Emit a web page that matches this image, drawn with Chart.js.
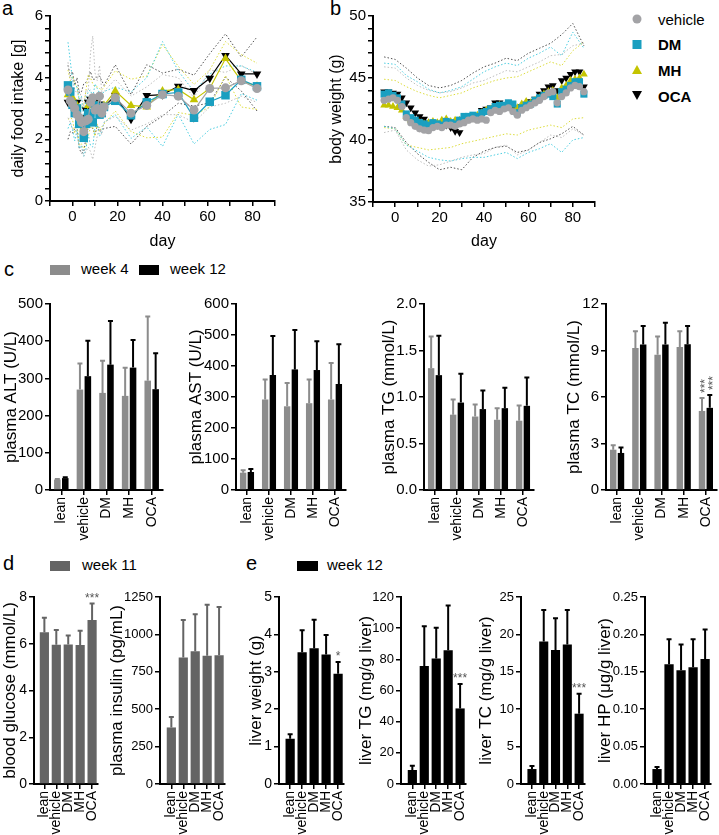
<!DOCTYPE html>
<html>
<head>
<meta charset="utf-8">
<script src="https://cdn.jsdelivr.net/npm/chart.js@4.4.1/dist/chart.umd.min.js"></script>
<style>
html,body{margin:0;padding:0;background:#fff;}
body{width:719px;height:835px;position:relative;overflow:hidden;font-family:"Liberation Sans",Arial,Helvetica,sans-serif;color:#000;}
.t{position:absolute;white-space:nowrap;line-height:1;}
.lbl{font-size:20px;}
.leg{font-size:15px;}
.sw{position:absolute;}
canvas{position:absolute;}
</style>
</head>
<body>
<div class="t lbl" style="left:2px;top:-2px">a</div>
<div class="t lbl" style="left:330px;top:-2px">b</div>
<div class="t lbl" style="left:4px;top:259px">c</div>
<div class="t lbl" style="left:3px;top:553px">d</div>
<div class="t lbl" style="left:246px;top:553px">e</div>

<svg style="position:absolute;left:628px;top:10px" width="20" height="95">
 <circle cx="9" cy="9" r="4.5" fill="#a3a3a6"/>
 <rect x="4.5" y="30" width="9" height="9" fill="#1a9fc0"/>
 <polygon points="9,55 14,64 4,64" fill="#c4c400"/>
 <polygon points="4,81 14,81 9,90" fill="#000"/>
</svg>
<div class="t leg" style="left:658px;top:12px">vehicle</div>
<div class="t leg" style="left:658px;top:37px;font-weight:bold">DM</div>
<div class="t leg" style="left:658px;top:63px;font-weight:bold">MH</div>
<div class="t leg" style="left:658px;top:89px;font-weight:bold">OCA</div>

<div class="sw" style="left:50px;top:265px;width:20px;height:10px;background:#8c8c8c"></div>
<div class="t leg" style="left:81px;top:261px">week 4</div>
<div class="sw" style="left:139px;top:265px;width:20px;height:10px;background:#000"></div>
<div class="t leg" style="left:170px;top:261px">week 12</div>

<div class="sw" style="left:50px;top:561px;width:20px;height:10px;background:#646464"></div>
<div class="t leg" style="left:82px;top:557px">week 11</div>
<div class="sw" style="left:297px;top:561px;width:21px;height:10px;background:#000"></div>
<div class="t leg" style="left:327px;top:557px">week 12</div>

<script>
// ---------------- DATA ----------------
const groups = ['lean', 'vehicle', 'DM', 'MH', 'OCA'];

// panel a: daily food intake [g]
const foodDays = [-2,-1,0,1,2,3,4,5,6,7,8,9,10,11,12,13,14,19,26,33,40,47,54,61,68,75,82];
const foodVehicle   = [3.6,3.25,3.15,3.0,2.8,2.7,2.55,2.25,2.6,2.65,3.2,3.35,2.95,3.0,3.4,2.85,3.05,3.35,2.85,3.1,3.45,3.4,2.95,3.65,3.67,3.9,3.65];
const foodVehicleSD = [0.9,0.7,0.8,0.6,0.7,0.9,0.8,0.8,1.0,0.9,1.6,2.0,1.2,0.9,1.0,0.7,0.5,0.6,0.55,0.6,0.65,0.6,0.4,0.6,0.5,0.5,0.45];
const foodDM        = [3.75,3.55,3.12,2.85,3.0,2.5,2.6,2.05,2.5,2.85,2.7,2.55,3.1,3.05,2.8,2.85,3.05,3.25,2.78,3.2,3.47,3.52,2.7,3.22,3.43,3.93,3.72];
const foodDMSD      = [1.4,1.0,0.8,0.9,0.7,0.8,0.8,0.6,0.8,0.7,0.9,0.8,0.7,0.6,0.7,0.6,0.5,0.45,0.75,0.8,1.7,0.7,0.85,0.9,0.95,0.45,0.45];
const foodMH        = [3.45,3.3,3.35,3.0,3.1,2.5,2.45,2.4,2.7,3.1,3.2,3.1,2.9,3.1,2.95,3.0,3.1,3.57,3.1,3.05,3.57,3.62,3.28,3.65,4.62,3.9,3.72];
const foodMHSD      = [0.8,0.6,0.7,0.8,0.6,0.7,0.6,0.7,0.9,1.0,0.8,0.7,0.8,0.6,0.7,0.6,0.6,0.65,0.85,1.0,1.5,0.75,0.5,0.6,0.55,0.85,0.75];
const foodOCA       = [3.2,3.15,3.2,3.05,3.2,2.6,2.55,2.7,2.95,3.2,3.3,3.15,3.05,3.25,3.15,3.1,3.05,3.42,2.65,3.42,3.45,3.72,3.58,3.98,4.72,4.12,4.12];
const foodOCASD     = [1.2,0.9,1.0,0.7,0.8,0.9,1.0,1.1,0.9,0.8,0.9,0.8,0.9,0.8,0.9,0.8,0.7,1.0,0.8,1.0,0.7,0.55,0.5,0.8,0.7,0.55,1.2];

// panel b: body weight (g)
const bwDays = [-5,-3,-1,1,3,5,7,9,11,13,15,17,19,21,23,25,27,29,31,33,35,37,39,41,43,45,47,49,51,53,55,57,59,61,63,65,67,69,71,73,75,77,79,81,83,85];
const bwVehicle = [43.2,43.3,43.4,43.2,42.7,41.8,41.4,41.1,40.9,40.8,40.75,41.0,41.1,41.0,41.2,41.2,41.1,41.3,41.4,41.6,41.7,41.6,41.7,41.6,42.2,42.4,42.3,42.5,42.6,42.3,42.0,42.4,42.6,42.8,43.0,43.2,43.5,43.8,43.9,43.0,43.5,43.8,44.2,44.4,44.3,43.9];
const bwDM      = [43.7,43.8,43.6,43.4,42.9,42.1,41.8,41.6,41.4,41.3,41.2,41.4,41.3,41.2,41.5,41.4,41.3,41.6,41.9,41.9,42.0,41.9,42.2,42.3,42.5,42.7,42.8,42.8,43.0,42.9,42.2,42.6,42.8,42.9,43.2,43.4,43.6,43.7,43.5,42.9,43.9,44.1,44.4,44.7,44.7,43.7];
const bwMH      = [42.8,42.8,42.7,42.6,42.4,41.9,41.6,41.5,41.4,41.3,41.4,41.5,41.4,41.6,41.7,41.5,41.6,41.6,41.7,41.8,41.9,42.0,42.2,42.4,42.5,42.6,42.8,42.7,42.9,42.8,42.6,42.9,43.1,43.0,43.2,43.4,43.7,43.9,44.0,43.4,44.2,44.4,44.8,44.9,45.0,45.3];
const bwOCA     = [43.9,43.9,43.8,43.7,43.4,43.0,42.6,42.2,41.9,41.7,41.4,41.2,41.3,41.1,41.2,41.0,40.7,40.6,41.5,41.7,41.8,42.0,42.4,42.5,42.6,43.0,43.0,42.8,42.7,42.6,42.5,42.7,42.9,43.1,43.3,43.7,44.0,44.3,44.4,44.0,44.8,45.0,45.3,45.5,45.5,44.3];
const bandDays = [-5,0,5,10,15,20,25,30,35,40,45,50,55,60,65,70,75,80,85];
const bwVehicleUpper = [45.9,45.8,45.0,44.4,44.0,43.8,43.9,44.2,44.6,44.8,45.2,45.6,45.5,45.9,46.3,46.8,46.9,47.6,47.8];
const bwVehicleLower = [40.6,40.8,39.2,38.4,37.9,38.0,38.3,38.6,38.8,38.9,39.4,39.6,38.8,39.2,39.8,40.4,40.2,40.9,40.4];
const bwDMUpper  = [46.2,46.1,45.2,44.7,44.1,43.8,44.0,44.3,44.9,45.5,45.9,46.2,46.0,46.6,47.0,47.5,46.8,48.7,47.4];
const bwDMLower  = [41.1,40.9,39.6,39.1,38.6,38.4,38.3,38.5,38.6,38.6,38.8,39.0,38.5,39.0,39.3,39.7,39.0,40.0,40.2];
const bwMHUpper  = [44.9,44.8,44.3,43.9,43.6,43.4,43.6,43.8,44.2,44.5,44.8,45.0,45.1,45.5,45.9,46.3,46.0,47.2,47.9];
const bwMHLower  = [41.0,40.9,39.6,39.4,39.2,39.3,39.4,39.7,39.9,40.1,40.3,40.5,40.4,40.8,41.0,41.2,41.0,41.7,41.8];
const bwOCAUpper = [46.7,46.5,45.8,45.0,44.4,44.2,44.4,44.8,45.4,45.9,46.2,46.6,46.4,47.0,47.4,47.8,48.5,49.4,47.6];
const bwOCALower = [41.1,41.0,39.8,38.9,38.2,37.6,37.8,37.6,38.6,39.1,39.4,39.5,39.0,39.2,39.8,40.1,40.5,41.1,40.4];

// panel c (week 4 / week 12, mean and SD)
const altWeek4 = [28,270,261,253,294],        altWeek4SD = [4,73,89,78,175];
const altWeek12 = [32,306,337,329,271],       altWeek12SD = [5,98,120,77,99];
const astWeek4 = [56,292,270,280,292],        astWeek4SD = [11,68,78,80,121];
const astWeek12 = [58,371,389,387,342],       astWeek12SD = [13,129,130,96,131];
const tgWeek4 = [1.31,0.81,0.79,0.755,0.745], tgWeek4SD = [0.35,0.175,0.14,0.135,0.175];
const tgWeek12 = [1.235,0.94,0.87,0.88,0.905],tgWeek12SD = [0.435,0.32,0.21,0.23,0.315];
const tcWeek4 = [2.6,9.16,8.73,9.22,5.1],     tcWeek4SD = [0.35,1.14,1.23,1.08,0.9];
const tcWeek12 = [2.39,9.38,9.38,9.4,5.3],    tcWeek12SD = [0.41,1.27,1.48,1.25,0.89];
const tcStars = ['','','','','***'];

// panel d (week 11)
const glucose = [6.49,5.96,5.97,5.95,7.02],   glucoseSD = [0.67,0.67,0.43,0.65,0.74];
const glucoseStars = ['','','','','***'];
const insulin = [378,845,888,858,860],        insulinSD = [77,258,254,347,330];

// panel e (week 12)
const liverWeight = [1.21,3.52,3.63,3.46,2.95], liverWeightSD = [0.15,0.62,0.79,0.55,0.34];
const liverWeightStars = ['','','','','*'];
const liverTG = [9,75.8,80.5,85.8,48.5],        liverTGSD = [3.4,26,20.4,29.4,16.3];
const liverTGStars = ['','','','','***'];
const liverTC = [2.0,19.05,17.9,18.65,9.4],     liverTCSD = [0.55,4.35,4.4,4.75,2.8];
const liverTCStars = ['','','','','***'];
const liverHP = [0.020,0.160,0.152,0.156,0.167],liverHPSD = [0.004,0.035,0.036,0.039,0.041];

// ---------------- STYLE ----------------
const C = {veh:'#a3a3a6', dm:'#1a9fc0', mh:'#c4c400', oca:'#000000'};
const CB = {veh:'#bdbdbd', dm:'#4acde0', mh:'#dcdc3c', oca:'#505050'};
const FONT = '"Liberation Sans", Arial, Helvetica, sans-serif';
Chart.defaults.font.family = FONT;
Chart.defaults.color = '#000';

function tickList(min, max, step){ const out=[]; const n=Math.round((max-min)/step); for(let i=0;i<=n;i++) out.push(+(min+i*step).toFixed(6)); return out; }
function isMult(v, m){ return Math.abs(v/m - Math.round(v/m)) < 1e-6; }

function yAxis(min, max, step, fmt, title, tSize, hSize){
  return {type:'linear', min, max,
    afterBuildTicks: s => { s.ticks = tickList(min,max,step).map(v=>({value:v})); },
    ticks:{autoSkip:false, font:{size:tSize}, color:'#000', padding:2, callback: fmt},
    grid:{drawOnChartArea:false, drawTicks:true, tickLength:5, color:'#000', lineWidth:1.5},
    border:{display:true, color:'#000', width:2},
    title:{display:true, text:title, font:{size:hSize}, color:'#000', padding:0}
  };
}
function xLin(min, max, step, fmt, title){
  return {type:'linear', min, max, offset:false,
    afterBuildTicks: s => { s.ticks = tickList(min,max,step).map(v=>({value:v})); },
    ticks:{autoSkip:false, maxRotation:0, font:{size:15}, color:'#000', padding:2, callback: fmt},
    grid:{drawOnChartArea:false, drawTicks:true, tickLength:5, color:'#000', lineWidth:1.5, offset:false},
    border:{display:true, color:'#000', width:2},
    title:{display:true, text:title, font:{size:16}, color:'#000', padding:0}
  };
}
function xCat(min){
  return {type:'linear', min, max:4.5, offset:false,
    afterBuildTicks: s => { s.ticks = [0,1,2,3,4].map(v=>({value:v})); },
    ticks:{autoSkip:false, minRotation:90, maxRotation:90, font:{size:14}, color:'#000', padding:2, callback: v => groups[v]},
    grid:{drawOnChartArea:false, drawTicks:true, tickLength:5, color:'#000', lineWidth:1.5, offset:false},
    border:{display:true, color:'#000', width:2}
  };
}

const errPlugin = {
  id:'errbars',
  afterDatasetsDraw(chart){
    const ctx = chart.ctx, ys = chart.scales.y;
    chart.data.datasets.forEach((ds,i) => {
      if(!ds.err) return;
      const meta = chart.getDatasetMeta(i);
      meta.data.forEach((el,j) => {
        const top = ys.getPixelForValue(ds.data[j].y + ds.err[j]);
        ctx.save();
        ctx.strokeStyle = ds.backgroundColor; ctx.lineWidth = 2;
        ctx.beginPath();
        ctx.moveTo(el.x, el.y); ctx.lineTo(el.x, top);
        ctx.moveTo(el.x-2.5, top+1); ctx.lineTo(el.x+2.5, top+1);
        ctx.stroke();
        const s = ds.stars && ds.stars[j];
        if(s){
          ctx.fillStyle = '#555'; ctx.font = '12px ' + FONT;
          if(ds.starRot){
            ctx.translate(el.x, top-4); ctx.rotate(-Math.PI/2);
            ctx.textAlign='left'; ctx.textBaseline='alphabetic';
            ctx.fillText(s, 0, 6.9);
          } else {
            ctx.textAlign='center'; ctx.textBaseline='alphabetic';
            ctx.fillText(s, el.x, top-1);
          }
        }
        ctx.restore();
      });
    });
  }
};

function build(box, cfg){
  const cl = Math.round(box.cl), ct = Math.round(box.T) - 12, cr = Math.round(box.R) + 12, cb = Math.round(box.cb);
  const c = document.createElement('canvas');
  const w = cr - cl, h = cb - ct;
  c.width = w; c.height = h;
  Object.assign(c.style, {left:cl+'px', top:ct+'px', width:w+'px', height:h+'px'});
  document.body.appendChild(c);
  cfg.options = cfg.options || {};
  Object.assign(cfg.options, {responsive:false, animation:false, devicePixelRatio:1,
    layout:{padding:{left:0, top:12, right:12, bottom:0}}});
  cfg.options.plugins = {legend:{display:false}, tooltip:{enabled:false}};
  const L = Math.round(box.L), B = Math.round(box.B);
  cfg.options.scales.y.afterFit = s => { s.width = L - cl; };
  cfg.options.scales.x.afterFit = s => { s.height = cb - B; };
  return new Chart(c, cfg);
}

function pts(xs, ys){ return xs.map((x,i)=>({x, y:ys[i]})); }
function meanDS(xs, ys, color, style, r, rot, line){
  return {data:pts(xs,ys), borderColor:color, backgroundColor:color, borderWidth:line?1.2:0, showLine:!!line,
    pointStyle:style, pointRadius:r, pointRotation:rot||0, pointBorderWidth:0, fill:false, tension:0};
}
function bandDS(xs, ys, color){
  return {data:pts(xs,ys), borderColor:color, borderWidth:1, borderDash:[1.5,2], pointRadius:0, showLine:true, fill:false, tension:0};
}
const plus = (m,s) => m.map((v,i)=>v+s[i]);
const minus = (m,s) => m.map((v,i)=>v-s[i]);

// ---------------- PANEL a ----------------
build({cl:9, T:16, L:49.5, R:274.5, B:201, cb:251}, {
  type:'line',
  data:{datasets:[
    meanDS(foodDays, foodVehicle, C.veh, 'circle', 4.5, 0, true),
    meanDS(foodDays, foodDM, C.dm, 'rect', 6, 0, true),
    meanDS(foodDays, foodMH, C.mh, 'triangle', 5, 0, true),
    meanDS(foodDays, foodOCA, C.oca, 'triangle', 5, 180, true),
    bandDS(foodDays, plus(foodVehicle, foodVehicleSD), CB.veh),
    bandDS(foodDays, minus(foodVehicle, foodVehicleSD), CB.veh),
    bandDS(foodDays, plus(foodDM, foodDMSD), CB.dm),
    bandDS(foodDays, minus(foodDM, foodDMSD), CB.dm),
    bandDS(foodDays, plus(foodMH, foodMHSD), CB.mh),
    bandDS(foodDays, minus(foodMH, foodMHSD), CB.mh),
    bandDS(foodDays, plus(foodOCA, foodOCASD), CB.oca),
    bandDS(foodDays, minus(foodOCA, foodOCASD), CB.oca)
  ]},
  options:{scales:{
    x: xLin(-10, 90, 10, v => (v>=0 && v<=80 && isMult(v,20)) ? String(v) : '', 'day'),
    y: yAxis(0, 6, 0.4, v => isMult(v,2) ? String(Math.round(v)) : '', 'daily food intake [g]', 15, 16)
  }}
});

// ---------------- PANEL b ----------------
build({cl:327, T:16, L:372.75, R:595.25, B:201.7, cb:251}, {
  type:'line',
  data:{datasets:[
    meanDS(bwDays, bwVehicle, C.veh, 'circle', 3.6, 0, false),
    meanDS(bwDays, bwDM, C.dm, 'rect', 5, 0, false),
    meanDS(bwDays, bwMH, C.mh, 'triangle', 4.5, 0, false),
    meanDS(bwDays, bwOCA, C.oca, 'triangle', 4.5, 180, false),
    bandDS(bandDays, bwVehicleUpper, CB.veh),
    bandDS(bandDays, bwVehicleLower, CB.veh),
    bandDS(bandDays, bwDMUpper, CB.dm),
    bandDS(bandDays, bwDMLower, CB.dm),
    bandDS(bandDays, bwMHUpper, CB.mh),
    bandDS(bandDays, bwMHLower, CB.mh),
    bandDS(bandDays, bwOCAUpper, CB.oca),
    bandDS(bandDays, bwOCALower, CB.oca)
  ]},
  options:{scales:{
    x: xLin(-10, 90, 10, v => (v>=0 && v<=80 && isMult(v,20)) ? String(v) : '', 'day'),
    y: yAxis(35, 50, 1, v => isMult(v,5) ? String(Math.round(v)) : '', 'body weight (g)', 15, 16)
  }}
});

// ---------------- bar helpers ----------------
function barDS(vals, sd, color, cp, bp, stars, starRot){
  return {data:vals.map((v,i)=>({x:i, y:v})), backgroundColor:color, borderWidth:0,
    categoryPercentage:cp, barPercentage:bp, err:sd, stars:stars, starRot:!!starRot};
}
function barChart(box, datasets, yMin, yMax, yStep, fmt, title, xMin, tSize){
  return build(box, {type:'bar', data:{datasets},
    options:{scales:{x:xCat(xMin), y:yAxis(yMin, yMax, yStep, fmt, title, tSize, 17)}},
    plugins:[errPlugin]});
}
const GRAY = '#8c8c8c', DGRAY = '#646464', BLACK = '#000000';
const int = v => String(Math.round(v));

// ---------------- PANEL c ----------------
const cBox = (cl, L, R) => ({cl, T:304, L, R, B:490, cb:548});
barChart(cBox(1, 50, 163), [
  barDS(altWeek4, altWeek4SD, GRAY, 0.7, 0.83),
  barDS(altWeek12, altWeek12SD, BLACK, 0.7, 0.83)
], 0, 500, 100, int, 'plasma ALT (U/L)', -0.5, 15);
barChart(cBox(186, 235.6, 346), [
  barDS(astWeek4, astWeek4SD, GRAY, 0.7, 0.83),
  barDS(astWeek12, astWeek12SD, BLACK, 0.7, 0.83)
], 0, 600, 100, int, 'plasma AST (U/L)', -0.5, 15);
barChart(cBox(379, 424, 534), [
  barDS(tgWeek4, tgWeek4SD, GRAY, 0.7, 0.83),
  barDS(tgWeek12, tgWeek12SD, BLACK, 0.7, 0.83)
], 0, 2, 0.5, v => v.toFixed(1), 'plasma TG (mmol/L)', -0.5, 15);
barChart(cBox(564, 605.5, 717), [
  barDS(tcWeek4, tcWeek4SD, GRAY, 0.7, 0.83, tcStars, true),
  barDS(tcWeek12, tcWeek12SD, BLACK, 0.7, 0.83, tcStars, true)
], 0, 12, 3, int, 'plasma TC (mmol/L)', -0.5, 15);

// ---------------- PANEL d ----------------
const dBox = (cl, L, R) => ({cl, T:597.3, L, R, B:783.5, cb:835});
barChart(dBox(0, 34.3, 100), [barDS(glucose, glucoseSD, DGRAY, 1, 0.77, glucoseStars)],
  0, 8, 2, int, 'blood glucose (mmol/L)', -0.87, 14);
barChart(dBox(107, 160, 227), [barDS(insulin, insulinSD, DGRAY, 1, 0.77)],
  0, 1250, 250, int, 'plasma insulin (pg/mL)', -0.95, 13);

// ---------------- PANEL e ----------------
barChart(dBox(246, 279.3, 345.5), [barDS(liverWeight, liverWeightSD, BLACK, 1, 0.77, liverWeightStars)],
  0, 5, 1, int, 'liver weight (g)', -0.93, 14);
barChart(dBox(356, 401, 468), [barDS(liverTG, liverTGSD, BLACK, 1, 0.77, liverTGStars)],
  0, 120, 20, int, 'liver TG (mg/g liver)', -0.95, 13);
barChart(dBox(476, 521, 587), [barDS(liverTC, liverTCSD, BLACK, 1, 0.77, liverTCStars)],
  0, 25, 5, int, 'liver TC (mg/g liver)', -0.93, 13);
barChart(dBox(595, 645, 713), [barDS(liverHP, liverHPSD, BLACK, 1, 0.77)],
  0, 0.25, 0.05, v => v.toFixed(2), 'liver HP (μg/g liver)', -1.0, 13);
</script>
</body>
</html>
